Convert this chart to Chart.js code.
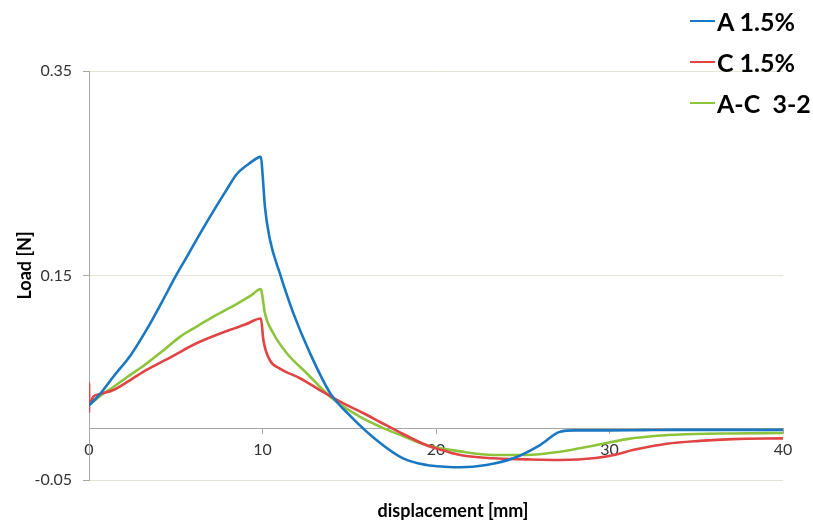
<!DOCTYPE html>
<html>
<head>
<meta charset="utf-8">
<script src="https://cdn.jsdelivr.net/npm/chart.js@4"></script>
<style>
  html, body { margin: 0; padding: 0; background: #fff; }
  #wrap { position: relative; width: 813px; height: 524px; }
  #legend { position: absolute; left: 690px; top: 0; font: bold 25px Lato, sans-serif; color: #000; }
  #legend .item { height: 41px; display: flex; align-items: center; white-space: pre; }
  #legend .swatch { width: 25px; height: 2px; margin-right: 2px; }
</style>
</head>
<body>
<div id="wrap">
  <canvas id="chart" width="813" height="524"></canvas>
  <div id="legend"></div>
</div>
<script>
// series
const names = ["A 1.5%", "C 1.5%", "A-C  3-2"];
const colors = ["#1a78c2", "#e04444", "#8cc43c"];

const dispA = [0, 0.63, 1.4, 2.4, 3.32, 4.2, 5.05, 5.63, 6.4, 7.17, 7.9, 8.51, 9.2, 9.91, 10.0, 10.14, 10.43, 11.0, 11.78, 12.74, 13.9, 15.04, 16.8, 18.1, 19.46, 20.5, 21.4, 22.9, 24.45, 26.0, 27.15, 28, 30, 32, 34, 36, 38, 40];
const loadA = [0.023, 0.034, 0.051, 0.072, 0.097, 0.124, 0.151, 0.168, 0.191, 0.213, 0.233, 0.249, 0.259, 0.266, 0.250, 0.217, 0.185, 0.152, 0.113, 0.074, 0.035, 0.013, -0.0141, -0.0288, -0.0353, -0.037, -0.0376, -0.0353, -0.0288, -0.0158, -0.0028, -0.0015, -0.0015, -0.0012, -0.001, -0.001, -0.001, -0.001];

const dispC = [0, 0.005, 0.01, 0.25, 0.63, 1.4, 2.4, 3.32, 4.8, 6.2, 8.1, 9.0, 9.91, 10.05, 10.43, 11.0, 12.16, 13.3, 14.47, 15.8, 16.8, 18.1, 19.46, 20.5, 21.4, 23.3, 25.2, 27.15, 29.2, 30.4, 31.4, 33.3, 35.2, 37.1, 40];
const loadC = [0.016, 0.045, 0.023, 0.0315, 0.034, 0.038, 0.048, 0.0576, 0.071, 0.0837, 0.0967, 0.102, 0.108, 0.087, 0.067, 0.059, 0.0495, 0.038, 0.0266, 0.0155, 0.0065, -0.005, -0.016, -0.0215, -0.0255, -0.0288, -0.0298, -0.0304, -0.0285, -0.025, -0.0205, -0.0145, -0.0117, -0.010, -0.0093];

const dispAC = [0, 0.63, 1.4, 2.4, 3.32, 4.3, 5.24, 6.2, 7.17, 8.5, 9.3, 9.91, 10.0, 10.14, 10.62, 11.4, 12.55, 13.9, 15.6, 16.8, 18.1, 19.46, 21.4, 23.3, 25.2, 27.15, 29.2, 31, 33, 35, 37, 40];
const loadAC = [0.023, 0.032, 0.041, 0.053, 0.064, 0.077, 0.090, 0.100, 0.1097, 0.122, 0.130, 0.1368, 0.129, 0.113, 0.0935, 0.074, 0.0544, 0.0315, 0.012, 0.002, -0.007, -0.016, -0.022, -0.0255, -0.0255, -0.0223, -0.016, -0.010, -0.0065, -0.005, -0.0045, -0.004];

const xTicks = [0, 10, 20, 30, 40];
const yTicks = [-0.05, 0.15, 0.35];

const series = [[dispA, loadA], [dispC, loadC], [dispAC, loadAC]];

const axisGray = "#a6a6a6";
const gridBeige = "#e6e3d3";
const tickFont = { family: "Lato", size: 16 };
const titleFont = { family: "Lato", size: 18, weight: "bold" };

const datasets = series.map(([xs, ys], i) => ({
  label: names[i],
  data: xs.map((x, j) => ({ x: x, y: ys[j] })),
  borderColor: colors[i],
  backgroundColor: colors[i],
  showLine: true,
  borderWidth: 2.6,
  pointRadius: 0,
  cubicInterpolationMode: "monotone"
}));

// the axis titles in the reference sit a little off the plot centre
const titleShift = {
  id: "titleShift",
  beforeDraw(chart) {
    const xt = chart.scales.xTitle, yt = chart.scales.yTitle;
    xt.left += 17; xt.right += 17;
    yt.top -= 10; yt.bottom -= 10;
  }
};

new Chart(document.getElementById("chart"), {
  type: "scatter",
  data: { datasets: datasets },
  plugins: [titleShift],
  options: {
    responsive: false,
    animation: false,
    layout: { padding: { left: 0, right: 30, top: 71, bottom: 0 } },
    plugins: { legend: { display: false }, tooltip: { enabled: false } },
    scales: {
      x: {
        type: "linear",
        min: 0, max: 40,
        position: { y: 0 },
        afterBuildTicks: s => { s.ticks = xTicks.map(v => ({ value: v })); },
        ticks: { font: tickFont, color: "#333", padding: 6, maxRotation: 0 },
        grid: { drawOnChartArea: false, tickLength: 5, tickColor: axisGray },
        border: { color: axisGray }
      },
      xTitle: {
        type: "linear",
        axis: "x",
        position: "bottom",
        min: 0, max: 40,
        ticks: { display: false },
        grid: { display: false },
        border: { display: false },
        title: { display: true, text: "displacement [mm]", font: titleFont, color: "#000", padding: { top: 0, bottom: 2 } },
        afterFit: s => { s.height = 44; }
      },
      y: {
        min: -0.05, max: 0.35,
        afterBuildTicks: s => { s.ticks = yTicks.map(v => ({ value: v })); },
        ticks: { font: tickFont, color: "#333", padding: 11, callback: v => v.toFixed(2) },
        grid: { color: gridBeige, tickColor: axisGray, tickLength: 6 },
        border: { color: axisGray },
        afterFit: s => { s.width = 55; }
      },
      yTitle: {
        type: "linear",
        axis: "y",
        position: "left",
        weight: 1,
        min: -0.05, max: 0.35,
        ticks: { display: false },
        grid: { display: false },
        border: { display: false },
        title: { display: true, text: "Load [N]", font: titleFont, color: "#000", padding: { top: 14, bottom: 0 } },
        afterFit: s => { s.width = 34; }
      }
    }
  }
});

// legend as html, same colours and names as the datasets
const legend = document.getElementById("legend");
names.forEach((n, i) => {
  const row = document.createElement("div");
  row.className = "item";
  const sw = document.createElement("span");
  sw.className = "swatch";
  sw.style.background = colors[i];
  const t = document.createElement("span");
  t.textContent = n;
  row.appendChild(sw);
  row.appendChild(t);
  legend.appendChild(row);
});
</script>
</body>
</html>
